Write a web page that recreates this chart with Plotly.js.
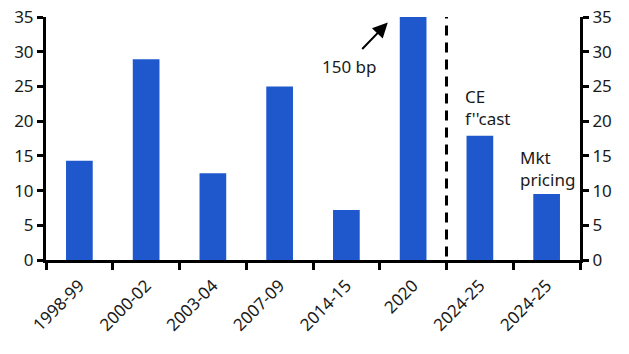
<!DOCTYPE html>
<html>
<head>
<meta charset="utf-8">
<script src="https://cdn.plot.ly/plotly-3.0.1.min.js"></script>
<style>html,body{margin:0;padding:0;background:#fff;}#chart{width:629px;height:354px;}</style>
</head>
<body>
<div id="chart"></div>
<script>
const categories = ["1998-99", "2000-02", "2003-04", "2007-09", "2014-15", "2020", "2024-25", "2024-25"];
const values = [14.3, 28.9, 12.5, 25.0, 7.2, 35.0, 17.9, 9.5];
const yTicks = [0, 5, 10, 15, 20, 25, 30, 35];

const idx = categories.map((c, i) => i);
const boundaries = categories.map((c, i) => i - 0.5).concat([categories.length - 0.5]);
const font = {family: "Noto Sans, Open Sans, sans-serif", size: 17, color: "#1a1a1a"};

const traces = [
  {type: "bar", x: idx, y: values, width: 0.4, marker: {color: "#1F58CC"}, hoverinfo: "skip"},
  {type: "scatter", mode: "lines", x: [0], y: [0], yaxis: "y2", hoverinfo: "skip", showlegend: false}
];

const yAx = {
  range: [0, 35], tickvals: yTicks, ticks: "outside", ticklen: 6, tickwidth: 3, tickcolor: "#000",
  showline: true, linewidth: 3, linecolor: "#000", showgrid: false, zeroline: false,
  tickfont: font, fixedrange: true
};

const layout = {
  width: 629, height: 354,
  margin: {l: 46, r: 49, t: 17, b: 94},
  paper_bgcolor: "#fff", plot_bgcolor: "#fff",
  showlegend: false,
  font: font,
  xaxis: {
    range: [-0.5, categories.length - 0.5],
    tickmode: "array", tickvals: idx, ticktext: categories, ticks: "",
    tickangle: -45, tickfont: font, ticklabelstandoff: 6,
    showline: true, linewidth: 3, linecolor: "#000", showgrid: false, zeroline: false,
    minor: {tickmode: "array", tickvals: boundaries, ticks: "outside", ticklen: 7, tickwidth: 3, tickcolor: "#000", showgrid: false}
  },
  yaxis: Object.assign({}, yAx, {side: "left"}),
  yaxis2: Object.assign({}, yAx, {side: "right", overlaying: "y"}),
  shapes: [
    {type: "line", xref: "x", yref: "y", x0: 5.5, x1: 5.5, y0: 0.5, y1: 35, line: {color: "#000", width: 3, dash: "10px,7px"}}
  ],
  annotations: [
    {x: 4.62, y: 34.2, xref: "x", yref: "y", ax: -27, ay: 28, text: "", showarrow: true,
     arrowhead: 2, arrowsize: 1.5, arrowwidth: 2, arrowcolor: "#000"},
    {x: 4.04, y: 27.8, xref: "x", yref: "y", text: "150 bp", showarrow: false, font: font},
    {x: 5.75, y: 22.0, xref: "x", yref: "y", text: "CE<br>f''cast", showarrow: false, xanchor: "left", align: "left", font: font},
    {x: 6.57, y: 13.25, xref: "x", yref: "y", text: "Mkt<br>pricing", showarrow: false, xanchor: "left", align: "left", font: font}
  ]
};

Plotly.newPlot("chart", traces, layout, {displayModeBar: false, staticPlot: true});
</script>
</body>
</html>
